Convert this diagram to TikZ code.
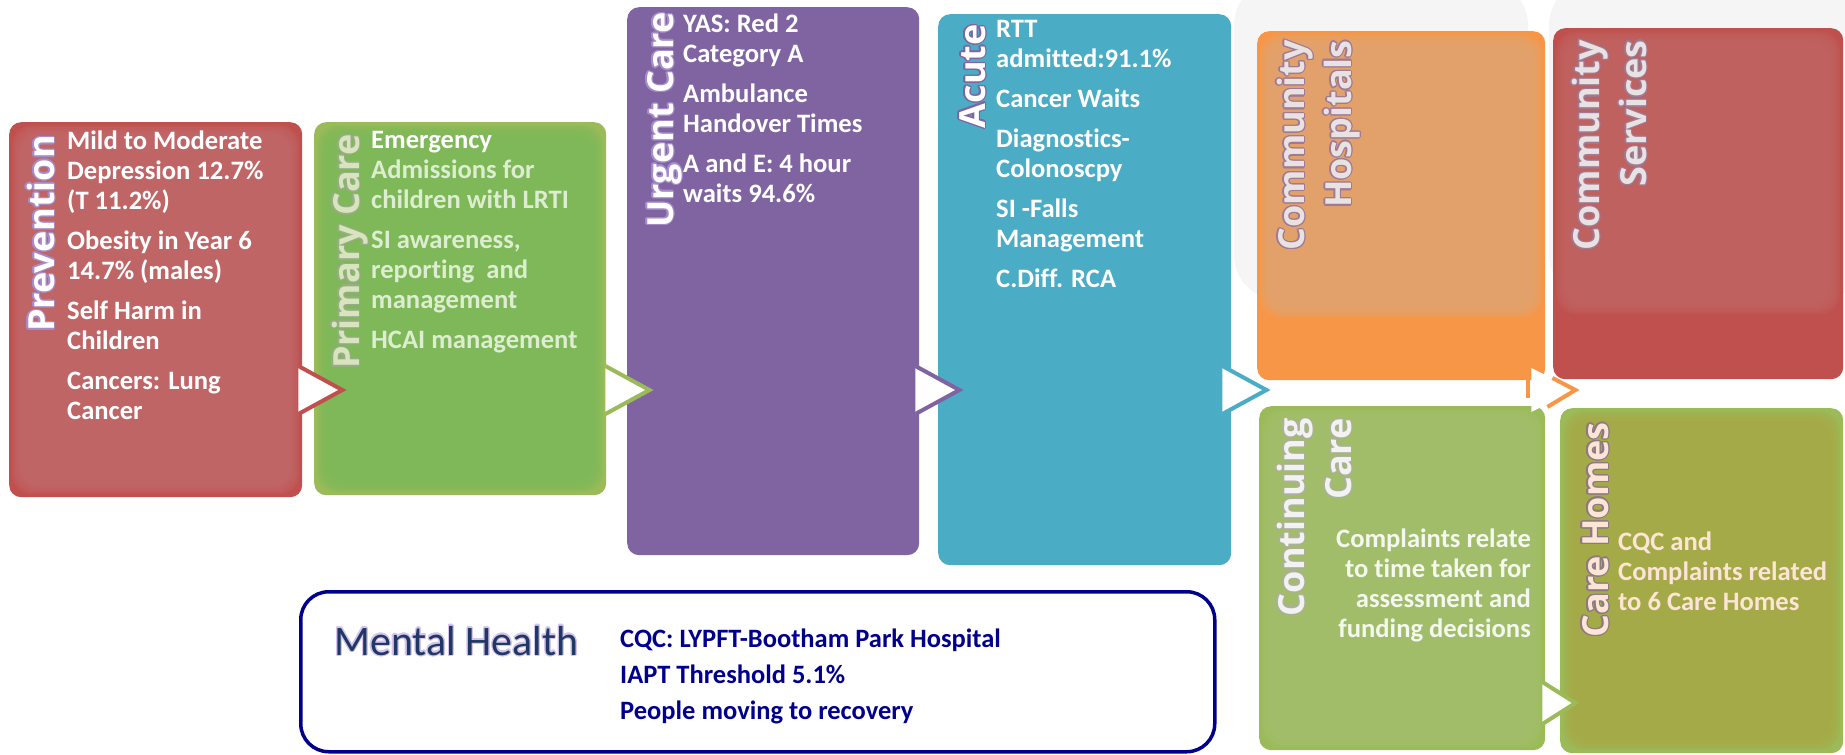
\documentclass[tikz,border=0pt]{standalone}
\usepackage{fontspec}
\setmainfont{Carlito}[Ligatures={NoCommon}]
\newfontfamily\titlefont{Open Sans}
\usepackage{contour}
\contourlength{1.2pt}
\usetikzlibrary{calc}

\definecolor{prevred}{HTML}{C0504D}
\definecolor{previn}{HTML}{C2696B}
\definecolor{primgreen}{HTML}{9BBB59}
\definecolor{primin}{HTML}{7DB858}
\definecolor{primlight}{HTML}{DDEDD1}
\definecolor{primtitle}{HTML}{D7E4BD}
\definecolor{urgpurple}{HTML}{8064A2}
\definecolor{acublue}{HTML}{4BACC6}
\definecolor{hosporange}{HTML}{F79646}
\definecolor{hospin}{HTML}{E1A471}
\definecolor{svcin}{HTML}{BF6563}
\definecolor{contin}{HTML}{A4C06E}
\definecolor{homein}{HTML}{A8A948}
\definecolor{commgrey}{HTML}{E8E2E2}
\definecolor{peach}{HTML}{FCE4D6}
\definecolor{mhblue}{HTML}{00008C}
\definecolor{mhslate}{HTML}{1F3864}
\definecolor{purpglow}{HTML}{A78BC8}
\definecolor{greenglow}{HTML}{98AD85}
\definecolor{mauveglow}{HTML}{A07A94}
\definecolor{greyglow}{HTML}{ADB09C}
\definecolor{darkglow}{HTML}{8C7A80}
\definecolor{lilacglow}{HTML}{D4C4EE}

\tikzset{
  glow bottom/.store in=\glowbottom, glow bottom=0pt,
  panel/.style 2 args={fill=#1, rounded corners=12pt, inner sep=0pt, anchor=north west,
    path picture={
      \foreach \i in {3,5,...,13}
        \fill[#2, opacity=.3, rounded corners=20pt]
          ([shift={(\i pt,-\i pt)}]path picture bounding box.north west) rectangle
          ([shift={(-\i pt,\glowbottom+\i pt)}]path picture bounding box.south east);}},
  title/.style={rotate=90, inner sep=0pt, font=\titlefont\fontsize{36}{47}\selectfont\bfseries},
  body/.style={inner sep=0pt, anchor=north west, align=left, font=\fontsize{26.6}{30}\selectfont\bfseries},
}
\newcommand\chev[4]{% tip, colour, depth, half height
  \fill[white] ($(#1)+(-#3,-#4)$) -- (#1) -- ($(#1)+(-#3,#4)$) -- cycle;
  \draw[#2, line width=4pt] ($(#1)+(-#3,-#4)$) -- (#1) -- ($(#1)+(-#3,#4)$);}

\begin{document}
\begin{tikzpicture}[x=1pt,y=-1pt]
\useasboundingbox (0,0) rectangle (1845,755);
% grey shadows behind the community boxes
\fill[black!4,rounded corners=45pt] (1234,-20) rectangle (1528,300);
\fill[black!4,rounded corners=45pt] (1549,-20) rectangle (1865,300);
% boxes
\node[panel={prevred}{previn}, minimum width=293pt, minimum height=375pt] (prev) at (9,122) {};
\node[panel={primgreen}{primin}, minimum width=292pt, minimum height=373pt] (prim) at (314,122) {};
\node[panel={urgpurple}{urgpurple}, minimum width=292pt, minimum height=548pt] (urg) at (627,7) {};
\node[panel={acublue}{acublue}, minimum width=293pt, minimum height=551pt] (acu) at (938,14) {};
\node[panel={hosporange}{hospin}, glow bottom=60pt, minimum width=288pt, minimum height=349pt] (chosp) at (1257,31) {};
\node[panel={prevred}{svcin}, glow bottom=62pt, minimum width=290pt, minimum height=351pt] (csvc) at (1553,28) {};
\node[panel={primgreen}{contin}, minimum width=286pt, minimum height=344pt] (cont) at (1259,406) {};
\node[panel={primgreen}{homein}, minimum width=283pt, minimum height=345pt] (chome) at (1560,408) {};
\node[draw=mhblue, line width=3.5pt, fill=white, rounded corners=28pt, anchor=north west,
  minimum width=914pt, minimum height=160pt, inner sep=0pt] (mh) at (299,590) {};
% chevrons
\coordinate (t1) at ($(prev.east |- 0,390)+(40,0)$);
\coordinate (t2) at ($(prim.east |- 0,390)+(43,0)$);
\coordinate (t3) at ($(urg.east |- 0,390)+(40,0)$);
\coordinate (t4) at ($(acu.east |- 0,390)+(35,0)$);
\coordinate (t5) at ($(chosp.east |- 0,390)+(30,0)$);
\coordinate (t6) at ($(cont.east |- 0,703)+(30,0)$);
\chev{t1}{prevred}{44}{24}
\chev{t2}{primgreen}{44}{24}
\chev{t3}{urgpurple}{44}{24}
\chev{t4}{acublue}{44}{24}
\chev{t6}{primgreen}{33}{21}
\fill[white] ($(t5)+(-44,-22)$) -- (t5) -- ($(t5)+(-44,22)$) -- cycle;
\draw[hosporange, line width=4pt] ($(t5)+(-23,-12)$) -- (t5) -- ($(t5)+(-28,17)$);
\draw[hosporange, line width=4pt] ($(t5)+(-47,-16)$) -- ($(t5)+(-47,8)$);
% titles
\node[title, anchor=base east, text=white] (prevtitle) at (54,135) {\contour{purpglow}{Prevention}};
\node[title, anchor=base east, text=primtitle] (primtitle) at (359,134) {\contour{greenglow}{Primary Care}};
\node[title, anchor=base east, text=white] (urgtitle) at (673,12) {\contour{purpglow}{Urgent Care}};
\node[title, anchor=base east, text=white] (acutitle) at (985,24) {\contour{urgpurple}{Acute}};
\node[title, anchor=north east, align=right, text=commgrey] (chosptitle) at (1271,40)
  {\strut\contour{mauveglow}{Community}\\\strut\contour{mauveglow}{Hospitals}};
\node[title, anchor=north east, align=right, text=commgrey] (csvctitle) at (1566,40)
  {\strut\contour{mauveglow}{Community}\\\strut\contour{mauveglow}{Services}};
\node[title, anchor=north east, align=right, text=white!95!black] (conttitle) at (1271,418)
  {\strut\contour{greyglow}{Continuing}\\\strut\contour{greyglow}{Care}};
\node[title, anchor=base east, text=peach] (chometitle) at (1608,422) {\contour{darkglow}{Care Homes}};
\node[anchor=base west, inner sep=0pt, text=mhslate, font=\fontsize{42}{48}\selectfont] (mhtitle) at (334,655)
  {\contour{lilacglow}{Mental Health}};
% texts
\node[body, text=white] (prevtext) at (67,128)
  {\strut Mild to Moderate\\Depression 12.7\%\\(T 11.2\%)\\[10pt]Obesity in Year 6\\14.7\% (males)\\[10pt]Self Harm in\\Children\\[10pt]Cancers: Lung\\Cancer};
\node[body, text=primlight] (primtext) at (371,127)
  {\strut{\color{white}Emergency}\\Admissions for\\children with LRTI\\[10pt]SI awareness,\\reporting~ and\\management\\[10pt]HCAI management};
\node[body, text=white] (urgtext) at (683,11)
  {\strut YAS: Red 2\\Category A\\[10pt]Ambulance\\Handover Times\\[10pt]A and E: 4 hour\\waits 94.6\%};
\node[body, text=white] (acutext) at (996,16)
  {\strut RTT\\admitted:91.1\%\\[10pt]Cancer Waits\\[10pt]Diagnostics-\\Colonoscpy\\[10pt]SI -Falls\\Management\\[10pt]C.Diff. RCA};
\node[body, anchor=north east, align=right, text=white!90!primgreen] (conttext) at (1531,526)
  {\strut Complaints relate\\to time taken for\\assessment and\\funding decisions};
\node[body, text=peach] (chometext) at (1618,529)
  {\strut CQC and\\Complaints related\\to 6 Care Homes};
\node[body, text=mhblue, font=\fontsize{26.5}{36}\selectfont\bfseries] (mhtext) at (620,622)
  {\strut CQC: LYPFT-Bootham Park Hospital\\IAPT Threshold 5.1\%\\People moving to recovery};
\end{tikzpicture}
\end{document}
